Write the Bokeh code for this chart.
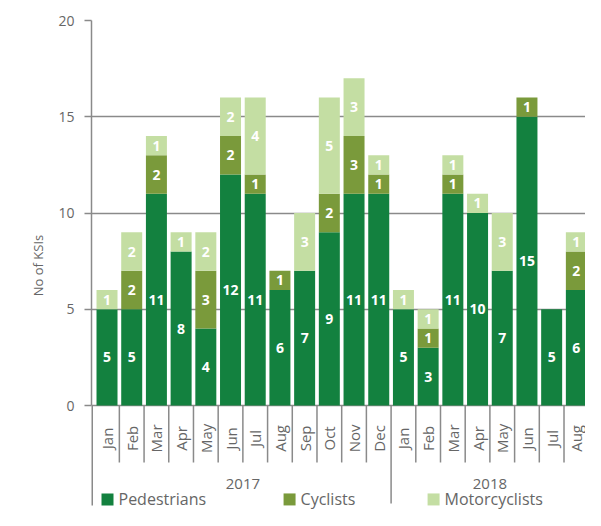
import math
from bokeh.plotting import figure
from bokeh.models import ColumnDataSource, Range1d, FixedTicker
from bokeh.core.properties import value
from bokeh.embed import file_html
from bokeh.resources import INLINE

# ---- data ----
months = ["Jan", "Feb", "Mar", "Apr", "May", "Jun", "Jul", "Aug", "Sep", "Oct", "Nov", "Dec",
          "Jan", "Feb", "Mar", "Apr", "May", "Jun", "Jul", "Aug"]
years = ["2017"] * 12 + ["2018"] * 8
pedestrians = [5, 5, 11, 8, 4, 12, 11, 6, 7, 9, 11, 11, 5, 3, 11, 10, 7, 15, 5, 6]
cyclists = [0, 2, 2, 0, 3, 2, 1, 1, 0, 2, 3, 1, 0, 1, 1, 0, 0, 1, 0, 2]
motorcyclists = [1, 2, 1, 1, 2, 2, 4, 0, 3, 5, 3, 1, 1, 1, 1, 1, 3, 0, 0, 1]
series_names = ["Pedestrians", "Cyclists", "Motorcyclists"]
y_ticks = [0, 5, 10, 15, 20]
y_label = "No of KSIs"

# ---- style / layout ----
colors = ["#13813f", "#7a9a3b", "#c4dea3"]
grey_line = "#8a8a8a"
grey_text = "#666666"
FONT = "Open Sans"
month_label_y = -1.71
month_sep_y = -2.96
year_label_y = -4.1
axis_bottom_y = -5.19
legend_y = -4.88
legend_x = [0.02, 7.39, 13.22]

n = len(months)
xs = list(range(n))
src = ColumnDataSource(dict(x=xs, Pedestrians=pedestrians, Cyclists=cyclists,
                            Motorcyclists=motorcyclists))

p = figure(width=585, height=510, output_backend="svg", toolbar_location=None,
           x_range=Range1d(-0.628, 19.37), y_range=Range1d(-5.4545, 20),
           x_axis_location=None,
           min_border_left=91, min_border_right=0, min_border_top=20, min_border_bottom=0)
p.outline_line_color = None
p.background_fill_color = "white"
p.xgrid.visible = False

# y axis
ax = p.yaxis[0]
ax.ticker = FixedTicker(ticks=y_ticks)
ax.bounds = (0, 20)
ax.axis_line_color = grey_line
ax.axis_line_width = 1.5
ax.major_tick_line_color = grey_line
ax.major_tick_line_width = 1.5
ax.major_tick_out = 7
ax.major_tick_in = 0
ax.minor_tick_line_color = None
ax.major_label_text_font = FONT
ax.major_label_text_font_size = "14px"
ax.major_label_text_color = grey_text
ax.major_label_standoff = 10
ax.axis_label = y_label
ax.axis_label_text_font = FONT
ax.axis_label_text_font_size = "13px"
ax.axis_label_text_font_style = "normal"
ax.axis_label_text_color = grey_text
ax.axis_label_standoff = 8

p.ygrid.grid_line_color = grey_line
p.ygrid.grid_line_width = 1.5
p.ygrid.ticker = FixedTicker(ticks=y_ticks)

# bars
renderers = p.vbar_stack(series_names, x="x", width=0.85, color=colors,
                         line_color=None, source=src)

# segment labels
lab_x, lab_y, lab_t = [], [], []
bottom = [0] * n
for vals in (pedestrians, cyclists, motorcyclists):
    for i, v in enumerate(vals):
        if v > 0:
            lab_x.append(i)
            lab_y.append(bottom[i] + v / 2)
            lab_t.append(str(v))
    bottom = [b + v for b, v in zip(bottom, vals)]
p.text(x=lab_x, y=lab_y, text=lab_t, text_color="white", text_font=value(FONT),
       text_font_size="14px", text_font_style="bold", text_align="center",
       text_baseline="middle")

# category separators below the axis
sep_x = [i - 0.5 for i in range(1, n)]
sep_y1 = [axis_bottom_y + 0.1 if years[i] != years[i - 1] else month_sep_y for i in range(1, n)]
p.segment(x0=sep_x, y0=[0] * len(sep_x), x1=sep_x, y1=sep_y1,
          line_color=grey_line, line_width=1.5)
# left axis extension below zero
p.segment(x0=[p.x_range.start], y0=[0], x1=[p.x_range.start], y1=[axis_bottom_y],
          line_color=grey_line, line_width=3)

# month labels
p.text(x=xs, y=[month_label_y] * n, text=months, angle=math.pi / 2, text_align="center",
       text_baseline="middle", text_color=grey_text, text_font=value(FONT),
       text_font_size="15px")

# year labels
year_names = sorted(set(years))
year_x = [sum(i for i in xs if years[i] == y) / years.count(y) for y in year_names]
p.text(x=year_x, y=[year_label_y] * len(year_names), text=year_names, text_align="center",
       text_baseline="middle", text_color=grey_text, text_font=value(FONT),
       text_font_size="15px")

# legend (squares + labels below the axis)
p.rect(x=legend_x, y=[legend_y] * 3, width=12, height=12, width_units="screen",
       height_units="screen", fill_color=colors, line_color=None)
p.text(x=legend_x, y=[legend_y] * 3, text=series_names, x_offset=11, text_align="left",
       text_baseline="middle", text_color=grey_text, text_font=value(FONT),
       text_font_size="16px")

open("out.html", "w").write(file_html(p, INLINE))
